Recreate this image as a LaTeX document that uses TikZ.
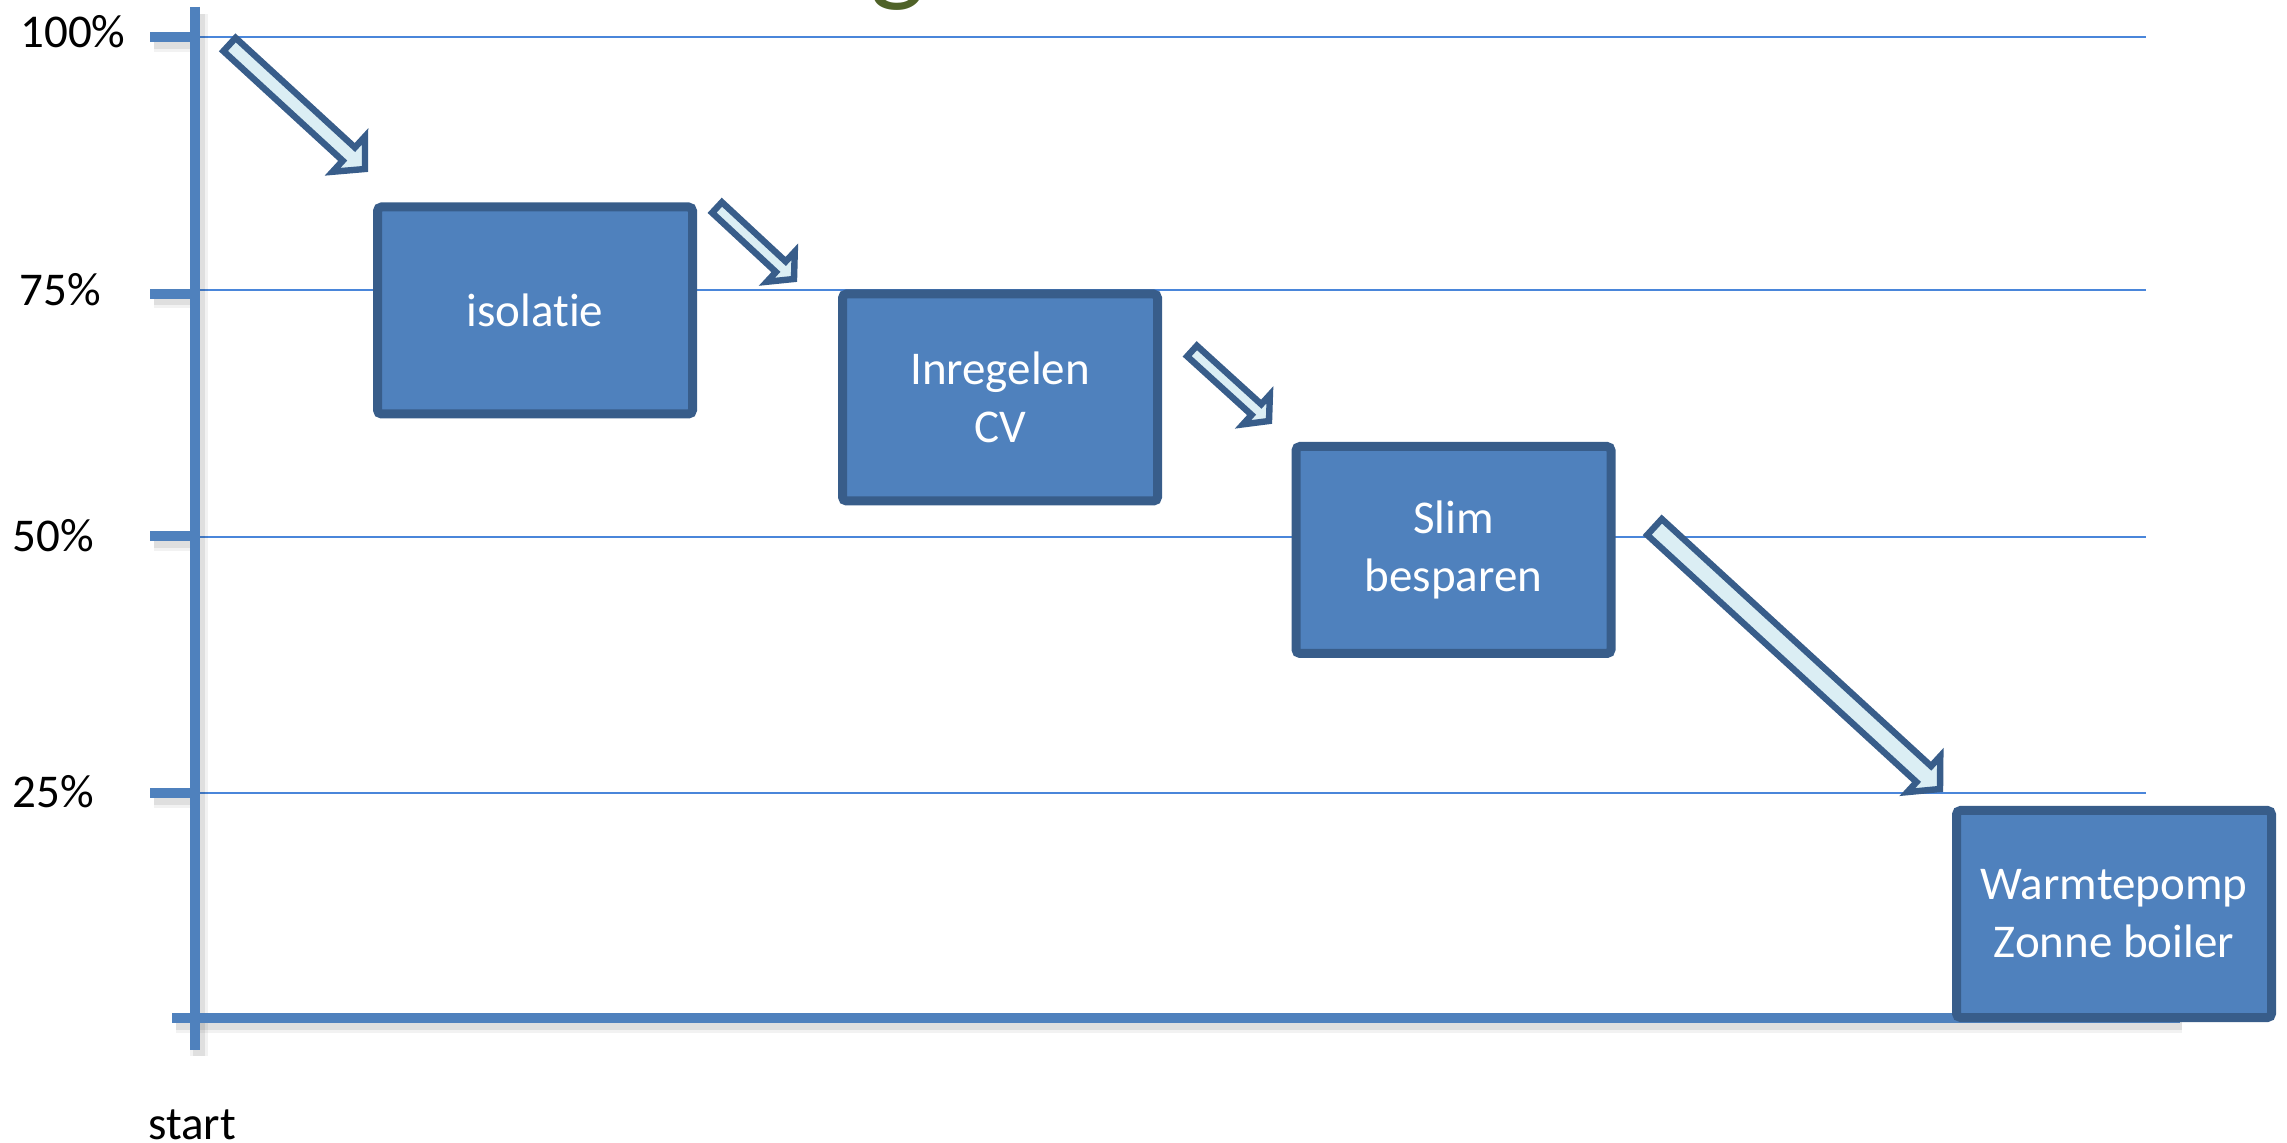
\documentclass[tikz,border=0pt]{standalone}
\usepackage{fontspec}
\setmainfont{Carlito}[Ligatures=NoCommon]
\usetikzlibrary{calc}
\definecolor{boxfill}{RGB}{79,129,189}
\definecolor{boxline}{RGB}{56,93,138}
\definecolor{arrowfill}{RGB}{219,238,244}
\definecolor{axisblue}{RGB}{79,129,189}
\definecolor{gridblue}{RGB}{74,134,218}
\definecolor{titlegreen}{RGB}{79,98,40}
\newcommand{\blockarrow}[5]{%
  \draw[arrowstyle] ($(#1)!#3!90:(#2)$) -- ($(#2)!#5!(#1)!#3!-90:(#1)$) -- ($(#2)!#5!(#1)!#4!-90:(#1)$) -- (#2) -- ($(#2)!#5!(#1)!#4!90:(#1)$) -- ($(#2)!#5!(#1)!#3!90:(#1)$) -- ($(#1)!#3!-90:(#2)$) -- cycle;}
\begin{document}
\begin{tikzpicture}[x=0.5pt,y=-0.5pt,
  stepbox/.style={draw=boxline, fill=boxfill, line width=4.5pt, rounded corners=2pt,
    minimum width=157.5pt, minimum height=103.5pt, inner sep=0pt, align=center,
    text=white, font=\fontsize{23.5}{29}\selectfont},
  arrowstyle/.style={draw=boxline, fill=arrowfill, line width=3.2pt, line join=miter, miter limit=10},
  axisline/.style={draw=axisblue, line width=5pt},
  gridline/.style={draw=gridblue, line width=1.2pt},
  shadowA/.style={draw=black, line width=9pt, opacity=0.05},
  shadowB/.style={draw=black, line width=6pt, opacity=0.08},
  lbl/.style={font=\fontsize{23.5}{29}\selectfont, inner sep=0pt, anchor=base west}]
\useasboundingbox (0,0) rectangle (2287,1143);
\clip (0,0) rectangle (2287,1143);

% title fragment
\node[text=titlegreen, font=\fontsize{58}{70}\selectfont, anchor=base, inner sep=0pt] (title) at (898,-9) {g};

% grid lines
\coordinate (g1a) at (195,37);  \coordinate (g1b) at (2146,37);
\coordinate (g2a) at (195,290); \coordinate (g2b) at (2146,290);
\coordinate (g3a) at (195,537); \coordinate (g3b) at (2146,537);
\coordinate (g4a) at (195,793); \coordinate (g4b) at (2146,793);
\draw[gridline] (g1a) -- (g1b);
\draw[gridline] (g2a) -- (g2b);
\draw[gridline] (g3a) -- (g3b);
\draw[gridline] (g4a) -- (g4b);

% axis shadows
\foreach \s in {shadowA,shadowB}{
  \draw[\s] (199,14) -- (199,1056);
  \draw[\s] (176,1024) -- (2182,1024);
  \draw[\s] (154,43) -- (195,43);
  \draw[\s] (154,299) -- (195,299);
  \draw[\s] (154,542) -- (195,542);
  \draw[\s] (154,799) -- (195,799);
}

% axes
\coordinate (vtop) at (195,7);
\coordinate (vbot) at (195,1050);
\coordinate (hleft) at (172,1018);
\coordinate (hright) at (2180,1018);
\draw[axisline] (vtop) -- (vbot);
\draw[axisline] (hleft) -- (hright);
\draw[axisline] (150,37) -- (195,37);
\draw[axisline] (150,294) -- (195,294);
\draw[axisline] (150,536) -- (195,536);
\draw[axisline] (150,793) -- (195,793);

% labels
\node[lbl] (l100) at (20,48) {100\%};
\node[lbl] (l75) at (19,306) {75\%};
\node[lbl] (l50) at (12,552) {50\%};
\node[lbl] (l25) at (12,808) {25\%};
\node[lbl] (lstart) at (148,1139) {start};

% boxes
\node[stepbox] (iso) at (535,310.5) {isolatie};
\node[stepbox] (cv) at (1000,397.5) {Inregelen\\CV};
\node[stepbox] (slim) at (1453.5,550) {Slim\\besparen};
\node[stepbox] (wp) at (2114,914) {Warmtepomp\\Zonne boiler};

% arrows
\coordinate (a1s) at (229.5,44.5);  \coordinate (a1e) at (365,169);
\coordinate (a2s) at (717,207.5);   \coordinate (a2e) at (794,279);
\coordinate (a3s) at (1192,351);    \coordinate (a3e) at (1269,421);
\coordinate (a4s) at (1654.5,527);  \coordinate (a4e) at (1940,789);
\blockarrow{a1s}{a1e}{4.5pt}{12pt}{11pt}
\blockarrow{a2s}{a2e}{3.6pt}{10.25pt}{9pt}
\blockarrow{a3s}{a3e}{3.6pt}{10pt}{8.5pt}
\blockarrow{a4s}{a4e}{5.4pt}{12.2pt}{11pt}
\end{tikzpicture}
\end{document}
